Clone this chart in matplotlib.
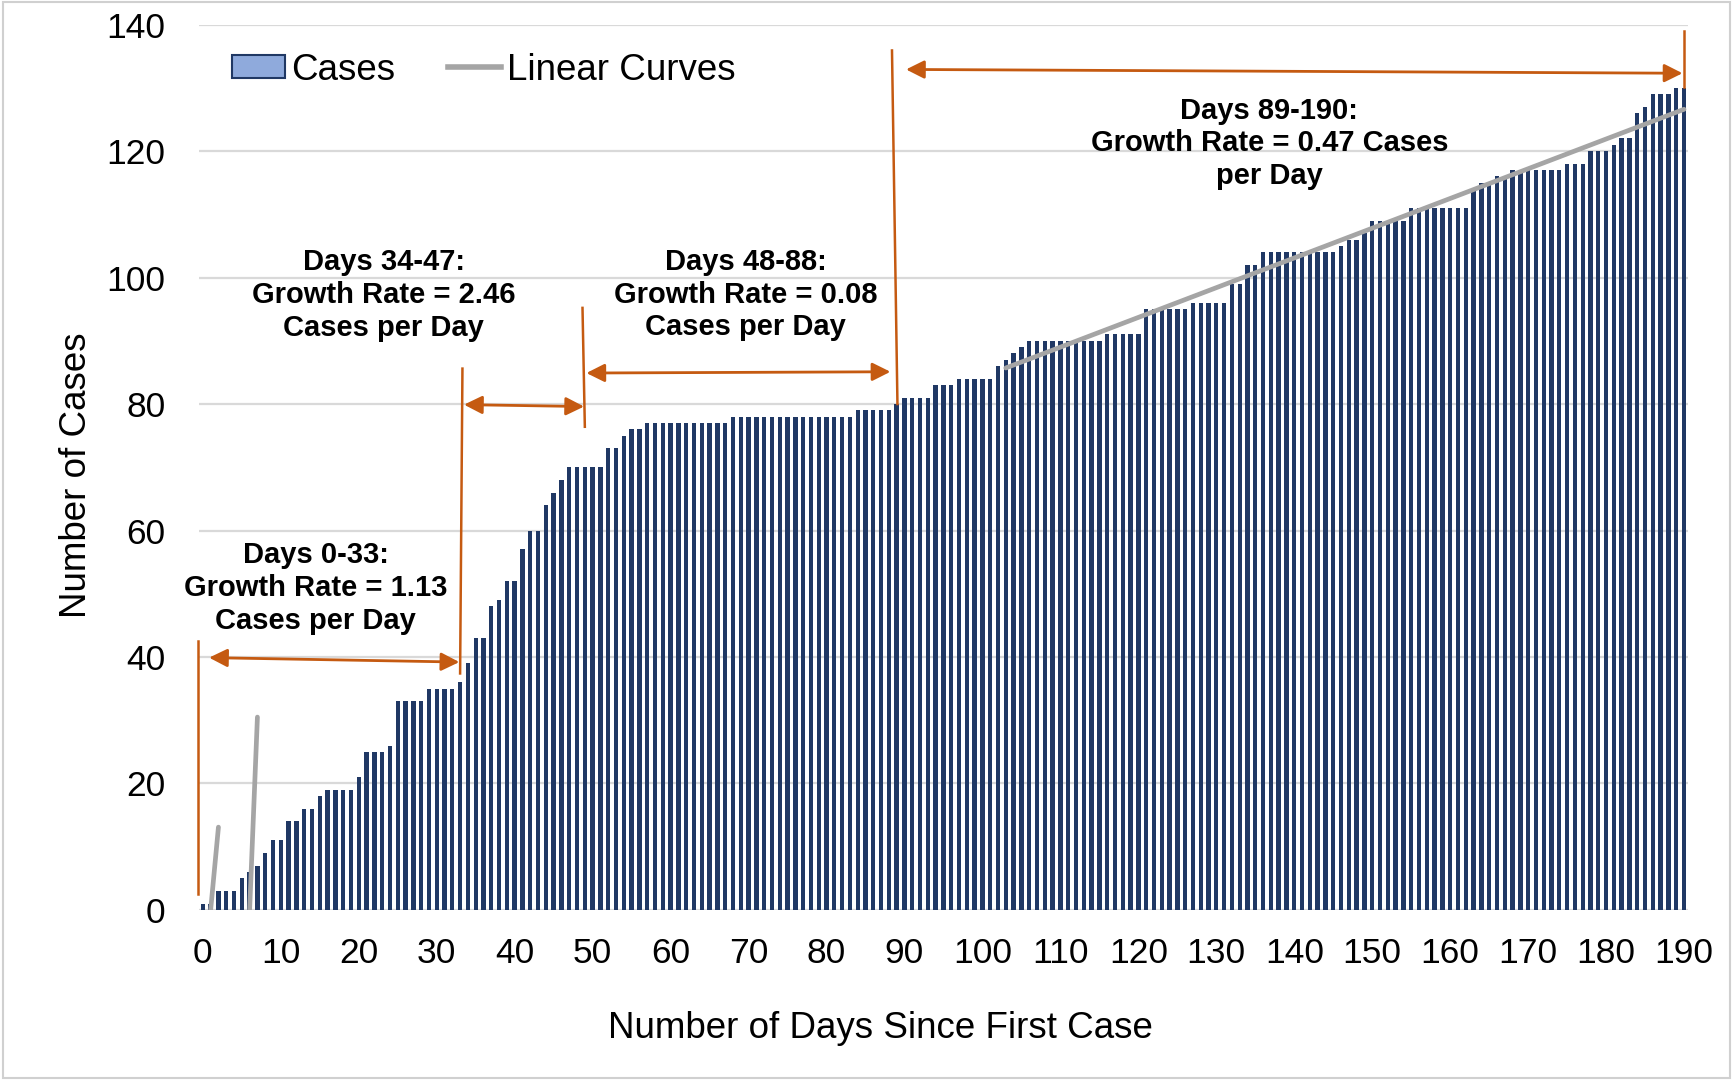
import matplotlib
matplotlib.use("Agg")
import matplotlib.pyplot as plt
from matplotlib.patches import Patch, Rectangle
from matplotlib.lines import Line2D

plt.rcParams['font.family'] = ['Liberation Sans', 'DejaVu Sans']

# ---------------- data ----------------
days = list(range(0, 191))
cases = [
    1, 1, 3, 3, 3, 5, 6, 7, 9, 11,            # 0-9
    11, 14, 14, 16, 16, 18, 19, 19, 19, 19,   # 10-19
    21, 25, 25, 25, 26, 33, 33, 33, 33, 35,   # 20-29
    35, 35, 35, 36, 39, 43, 43, 48, 49, 52,   # 30-39
    52, 57, 60, 60, 64, 66, 68, 70, 70, 70,   # 40-49
    70, 70, 73, 73, 75, 76, 76, 77, 77, 77,   # 50-59
    77, 77, 77, 77, 77, 77, 77, 77, 78, 78,   # 60-69
    78, 78, 78, 78, 78, 78, 78, 78, 78, 78,   # 70-79
    78, 78, 78, 78, 79, 79, 79, 79, 79, 80,   # 80-89
    81, 81, 81, 81, 83, 83, 83, 84, 84, 84,   # 90-99
    84, 84, 86, 87, 88, 89, 90, 90, 90, 90,   # 100-109
    90, 90, 90, 90, 90, 90, 91, 91, 91, 91,   # 110-119
    91, 95, 95, 95, 95, 95, 95, 96, 96, 96,   # 120-129
    96, 96, 99, 99, 102, 102, 104, 104, 104, 104,  # 130-139
    104, 104, 104, 104, 104, 104, 105, 106, 106, 107,  # 140-149
    109, 109, 109, 109, 109, 111, 111, 111, 111, 111,  # 150-159
    111, 111, 111, 114, 115, 115, 116, 116, 117, 117,  # 160-169
    117, 117, 117, 117, 117, 118, 118, 118, 120, 120,  # 170-179
    120, 121, 122, 122, 126, 127, 129, 129, 129, 130,  # 180-189
    130,                                               # 190
]

# linear curve segments (x, y) as they appear on the chart
curve1_x = [1, 2]
curve1_y = [0, 13.1]
curve2_x = [6, 7]
curve2_y = [0, 30.5]
curve3_x = [103, 190]
curve3_y = [85.7, 126.6]

x_ticks = list(range(0, 191, 10))
y_ticks = list(range(0, 141, 20))

# annotation texts and their anchor positions (data units)
ann_texts = [
    "Days 0-33:\nGrowth Rate = 1.13\nCases per Day",
    "Days 34-47:\nGrowth Rate = 2.46\nCases per Day",
    "Days 48-88:\nGrowth Rate = 0.08\nCases per Day",
    "Days 89-190:\nGrowth Rate = 0.47 Cases\nper Day",
]
ann_x = [14.5, 23.2, 69.6, 136.8]
ann_y = [50.9, 97.2, 97.3, 121.2]

# orange vertical range markers ((x0, y0), (x1, y1))
vlines = [
    ((-0.6, 2.5), (-0.6, 42.5)),
    ((33.3, 85.6), (33.0, 37.4)),
    ((48.7, 95.2), (49.0, 76.4)),
    ((88.4, 135.9), (89.1, 80.0)),
    ((190.0, 138.9), (190.0, 130.1)),
]
# orange double arrows ((x0, y0), (x1, y1))
arrows = [
    ((0.8, 39.9), (32.9, 39.2)),
    ((33.5, 79.9), (48.9, 79.6)),
    ((49.2, 84.9), (88.2, 85.1)),
    ((90.2, 132.9), (189.8, 132.3)),
]

# ---------------- style ----------------
BAR = '#203864'
LEG_FILL = '#8FAADC'
GRAY = '#A5A5A5'
ORANGE = '#C55A11'
GRID = '#D9D9D9'

fig = plt.figure(figsize=(17.33, 10.81), dpi=100)
ax = fig.add_axes([0.1148, 0.1582, 0.8592, 0.8191])

ax.bar(days, cases, width=0.56, color=BAR, zorder=2)
for cx, cy in [(curve1_x, curve1_y), (curve2_x, curve2_y), (curve3_x, curve3_y)]:
    ax.plot(cx, cy, color=GRAY, lw=3.4, solid_capstyle='round', zorder=3)

ax.set_xlim(-0.5, 190.5)
ax.set_ylim(0, 140)
ax.set_xticks(x_ticks)
ax.set_yticks(y_ticks)
ax.tick_params(axis='both', length=0, labelsize=25.5, colors='black')
ax.tick_params(axis='y', pad=24)
ax.tick_params(axis='x', pad=19.5)
ax.grid(axis='y', color=GRID, lw=1.6, zorder=0)
ax.set_axisbelow(True)
for s in ax.spines.values():
    s.set_visible(False)

ax.set_xlabel("Number of Days Since First Case", fontsize=26.5, va='center')
ax.xaxis.set_label_coords(0.458, -0.1333)
ax.set_ylabel("Number of Cases", fontsize=26.5, va='center')
ax.yaxis.set_label_coords(-0.0823, 0.491)

for t, x, y in zip(ann_texts, ann_x, ann_y):
    ax.text(x, y, t, ha='center', va='center', fontsize=21, fontweight='bold',
            linespacing=1.22, zorder=5)

for (x0, y0), (x1, y1) in vlines:
    ax.plot([x0, x1], [y0, y1], color=ORANGE, lw=1.8, clip_on=False, zorder=4)

for (x0, y0), (x1, y1) in arrows:
    ax.annotate('', xy=(x1, y1), xytext=(x0, y0),
                arrowprops=dict(arrowstyle='<|-|>,head_length=1.1,head_width=0.55',
                                color=ORANGE, lw=2.0, shrinkA=0, shrinkB=0,
                                mutation_scale=10),
                annotation_clip=False, zorder=4)

handles = [Patch(facecolor=LEG_FILL, edgecolor=BAR, lw=1.5),
           Line2D([], [], color=GRAY, lw=4)]
fig.legend(handles, ["Cases", "Linear Curves"], loc='center left',
           bbox_to_anchor=(0.1339, 0.9352), ncol=2, frameon=False,
           fontsize=26.5, handlelength=1.44, handleheight=0.55,
           handletextpad=0.17, columnspacing=1.42, borderpad=0, borderaxespad=0)

fig.patches.append(Rectangle((0.002, 0.003), 0.996, 0.995, transform=fig.transFigure,
                             fill=False, edgecolor='#D0D0D0', lw=1.5))

fig.savefig("out.png", dpi=100)
